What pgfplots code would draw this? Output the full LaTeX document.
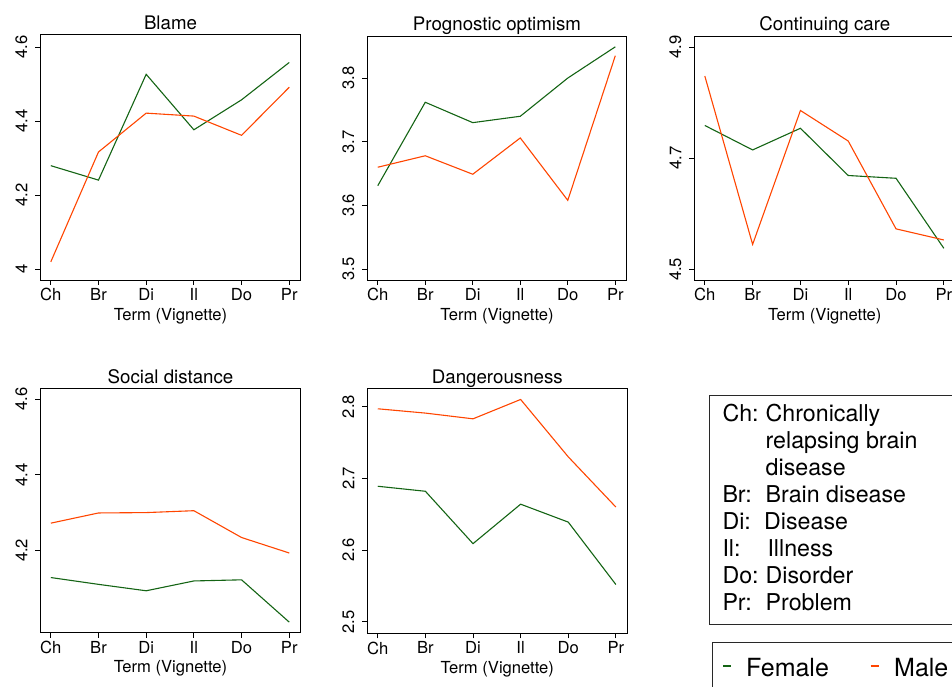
\documentclass[border=0pt]{standalone}
\usepackage{pgfplots}
\pgfplotsset{compat=1.18}
\usepackage{fontspec}
\setmainfont{TeX Gyre Heros}
\definecolor{fem}{RGB}{20,100,20}
\definecolor{mal}{RGB}{255,69,0}
\definecolor{frame}{RGB}{40,40,40}

\pgfplotsset{
  panel/.style={
    scale only axis,
    xmin=-0.22, xmax=5.24,
    xtick={0,...,5},
    xticklabels={Ch,Br,Di,Il,Do,Pr},
    axis line style={line width=0.8pt, black},
    tick style={black, line width=0.8pt},
    tick align=outside,
    major tick length=5pt,
    xtick pos=bottom, ytick pos=left,
    ticklabel style={font=\fontsize{16.6}{18}\selectfont},
    yticklabel style={rotate=90, anchor=south},
    yticklabel shift=4.5pt,
    xlabel={Term (Vignette)},
    xlabel style={font=\fontsize{16.6}{18}\selectfont},
    every axis title shift=0pt,
    title style={font=\fontsize{18.7}{20}\selectfont, anchor=base, at={(0.5,1)}, yshift=5.4pt},
    /pgf/number format/assume math mode=true,
    /pgf/number format/fixed,
    every axis plot/.append style={line width=1.1pt, mark=none},
  }
}

\begin{document}
\begin{tikzpicture}[x=1pt, y=1pt]
\clip (0,0) rectangle (952,686);

% Blame
\begin{axis}[panel, title={Blame}, at={(40.3pt,406pt)}, anchor=south west,
  width=260.4pt, height=245.3pt, ymin=3.971, ymax=4.634, ytick={4,4.2,4.4,4.6}]
\addplot[fem] coordinates {(0,4.280) (1,4.241) (2,4.527) (3,4.377) (4,4.458) (5,4.559)};
\addplot[mal] coordinates {(0,4.020) (1,4.317) (2,4.422) (3,4.414) (4,4.362) (5,4.492)};
\end{axis}

% Prognostic optimism
\begin{axis}[panel, title={Prognostic optimism}, at={(367.3pt,406pt)}, anchor=south west,
  width=259.4pt, height=244pt, ymin=3.483, ymax=3.866, ytick={3.5,3.6,3.7,3.8}]
\addplot[fem] coordinates {(0,3.631) (1,3.762) (2,3.730) (3,3.740) (4,3.800) (5,3.849)};
\addplot[mal] coordinates {(0,3.660) (1,3.678) (2,3.649) (3,3.706) (4,3.608) (5,3.835)};
\end{axis}

% Continuing care
\begin{axis}[panel, title={Continuing care}, at={(694.3pt,406pt)}, anchor=south west,
  width=261pt, height=244pt, ymin=4.481, ymax=4.920, ytick={4.5,4.7,4.9}]
\addplot[fem] coordinates {(0,4.759) (1,4.715) (2,4.754) (3,4.669) (4,4.664) (5,4.538)};
\addplot[mal] coordinates {(0,4.848) (1,4.545) (2,4.786) (3,4.731) (4,4.573) (5,4.553)};
\end{axis}

% Social distance
\begin{axis}[panel, title={Social distance}, at={(40.3pt,53.3pt)}, anchor=south west,
  width=260.4pt, height=244pt, ymin=3.982, ymax=4.628, ytick={4.2,4.4,4.6}]
\addplot[fem] coordinates {(0,4.128) (1,4.110) (2,4.093) (3,4.119) (4,4.122) (5,4.010)};
\addplot[mal] coordinates {(0,4.272) (1,4.299) (2,4.300) (3,4.305) (4,4.234) (5,4.193)};
\end{axis}

% Dangerousness
\begin{axis}[panel, title={Dangerousness}, at={(367.3pt,52.7pt)}, anchor=south west,
  width=260pt, height=244.6pt, ymin=2.484, ymax=2.825, ytick={2.5,2.6,2.7,2.8}]
\addplot[fem] coordinates {(0,2.689) (1,2.682) (2,2.609) (3,2.664) (4,2.639) (5,2.552)};
\addplot[mal] coordinates {(0,2.797) (1,2.791) (2,2.783) (3,2.810) (4,2.730) (5,2.660)};
\end{axis}

% key to the terms
\draw[frame, line width=0.8pt] (709,291) rectangle (965,61.7);
\begin{scope}[every node/.style={anchor=base west, inner sep=0pt, font=\fontsize{23.2}{26}\selectfont}]
\node at (722.3,264.3) {Ch:};
\node at (765.5,264.3) {Chronically};
\node at (765.5,237.3) {relapsing brain};
\node at (765.5,210.3) {disease};
\node at (722.3,183.3) {Br:};
\node at (765.5,183.3) {Brain disease};
\node at (722.3,156.3) {Di:};
\node at (764,156.3) {Disease};
\node at (722.3,129.3) {Il:};
\node at (767.3,129.3) {Illness};
\node at (722.3,102.3) {Do:};
\node at (765.5,102.3) {Disorder};
\node at (722.3,75.3) {Pr:};
\node at (765.5,75.3) {Problem};
\end{scope}

% legend
\draw[frame, line width=0.8pt] (712.3,43.7) rectangle (965,-10);
\draw[fem, line width=2pt] (723.3,20) -- (731,20);
\draw[mal, line width=2pt] (870.7,20) -- (879,20);
\node[anchor=base west, inner sep=0pt, font=\fontsize{25}{28}\selectfont] at (746,9.3) {Female};
\node[anchor=base west, inner sep=0pt, font=\fontsize{25}{28}\selectfont] at (894,9.3) {Male};
\end{tikzpicture}
\end{document}
